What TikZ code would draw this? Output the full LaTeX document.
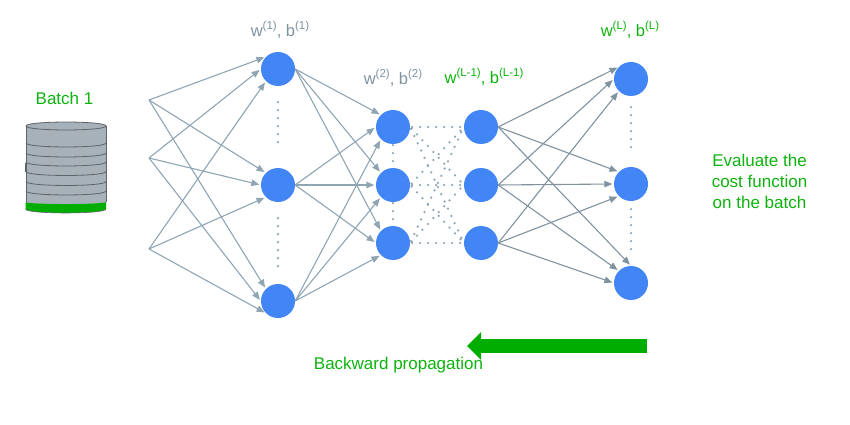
\documentclass[tikz,border=0pt]{standalone}
\usepackage{fontspec}
\setmainfont{Liberation Sans}
\usetikzlibrary{arrows.meta}
\definecolor{nodeblue}{HTML}{4285F4}
\definecolor{edgegray}{HTML}{8FA5B3}
\definecolor{edgedark}{HTML}{7F939F}
\definecolor{labelgray}{HTML}{7F939F}
\definecolor{labelgreen}{HTML}{0DB30D}
\definecolor{arrowgreen}{HTML}{00AD00}
\definecolor{diskgray}{HTML}{A7B1B9}
\definecolor{diskline}{HTML}{5F6468}
\newcommand{\supr}[1]{\raisebox{0.42em}{\fontsize{11.5}{12}\selectfont #1}}
\newcommand{\diskarc}[1]{(26,#1) .. controls (26,#1+5.3) and (106,#1+5.3) .. (106,#1)}
\tikzset{
  neuron/.style={circle,fill=nodeblue,draw=none,minimum size=34pt,inner sep=0pt},
  edge/.style={draw=edgegray,line width=1.1pt,shorten >=1.5pt,-{Triangle[length=8pt,width=6.5pt]}},
  edgeb/.style={edge,draw=edgedark},
  dotedge/.style={draw=edgegray,line width=2.5pt,line cap=round,dash pattern=on 0pt off 8pt,shorten <=2pt},
  vdots/.style={draw=edgegray,line width=2.5pt,line cap=round,dash pattern=on 0pt off 8pt},
  txt/.style={font=\fontsize{17}{20.6}\selectfont,inner sep=0pt,align=center},
  weight/.style={font=\fontsize{16.5}{20}\selectfont,inner sep=0pt,align=center},
  disk/.style={draw=diskline,line width=0.8pt}
}
\begin{document}
\begin{tikzpicture}[x=1pt,y=-1pt]
\useasboundingbox (0,0) rectangle (850,425);
% input points
\coordinate (i1) at (149,100);
\coordinate (i2) at (149,158);
\coordinate (i3) at (149,249);
% neurons
\node[neuron] (a1) at (278,69) {};
\node[neuron] (a2) at (278,185) {};
\node[neuron] (a3) at (278,301) {};
\node[neuron] (b1) at (393,127) {};
\node[neuron] (b2) at (393,185) {};
\node[neuron] (b3) at (393,243) {};
\node[neuron] (c1) at (481,127) {};
\node[neuron] (c2) at (481,185) {};
\node[neuron] (c3) at (481,243) {};
\node[neuron] (d1) at (631,79) {};
\node[neuron] (d2) at (631,184) {};
\node[neuron] (d3) at (631,283) {};
% connectors
\foreach \s/\ang in {1/135,2/180,3/225}{\foreach \t in {1,2,3}{
  \draw[edge] (i\s) -- (a\t.\ang);
  \draw[edge] (a\s.east) -- (b\t.\ang);
  \draw[dotedge] (b\s.east) -- (c\t.west);
}}
\foreach \s/\ang in {1/135,2/180,3/225}{\foreach \t in {1,2}{
  \draw[edgeb] (c\s.east) -- (d\t.\ang);
}}
\draw[edgeb] (c1.east) -- (d3.north);
\draw[edgeb] (c2.east) -- (d3.135);
\draw[edgeb] (c3.east) -- (d3.west);
\draw[vdots,shorten <=16pt,shorten >=18pt] (a1.south) -- (a2.north);
\draw[vdots,shorten <=16pt,shorten >=17pt] (a2.south) -- (a3.north);
\draw[vdots,shorten <=1pt,shorten >=6pt] (b1.south) -- (b2.north);
\draw[vdots,shorten <=1pt,shorten >=6pt] (b2.south) -- (b3.north);
\draw[vdots,shorten <=11pt,shorten >=12pt] (d1.south) -- (d2.north);
\draw[vdots,shorten <=8pt,shorten >=9pt] (d2.south) -- (d3.north);
% stack of batches
\fill[diskgray] (26,126) .. controls (26,120.7) and (106,120.7) .. (106,126) -- (106,205) -- (26,205) -- cycle;
\fill[arrowgreen] (25.5,202) .. controls (25.5,204.7) and (106,204.7) .. (106,202) -- (106,209) .. controls (106,214.3) and (25.5,214.3) .. (25.5,209) -- cycle;
\draw[disk] (26,126) .. controls (26,120.7) and (106,120.7) .. (106,126);
\draw[disk] \diskarc{126};
\draw[disk] (26,126) -- (26,202);
\draw[disk] (106,126) -- (106,202);
\draw[disk] (25.3,163) -- (25.3,172);
\draw[diskline,line width=0.6pt] (25.5,209) .. controls (25.5,214.3) and (106,214.3) .. (106,209);
\foreach \yy in {143,153,162,171.5,181.5,191}{
  \draw[disk] \diskarc{\yy};
}
% backward arrow
\coordinate (arrstart) at (647,346);
\coordinate (arrend) at (467,346);
\draw[draw=arrowgreen,line width=14pt,-{Triangle[length=14pt,width=27pt]}] (arrstart) -- (arrend);
% labels
\node[txt,text=labelgreen] (batch) at (64.5,98.5) {Batch 1};
\node[weight,text=labelgray] (l1) at (280,29.5) {w\supr{(1)}, b\supr{(1)}};
\node[weight,text=labelgray] (l2) at (393,77.5) {w\supr{(2)}, b\supr{(2)}};
\node[weight,text=labelgreen] (l3) at (484,76.5) {w\supr{(L-1)}, b\supr{(L-1)}};
\node[weight,text=labelgreen] (l4) at (630,29.5) {w\supr{(L)}, b\supr{(L)}};
\node[txt,text=labelgreen] (eval) at (759.5,181.5) {Evaluate the\\cost function\\on the batch};
\node[txt,text=labelgreen] (back) at (398.5,365.5) {Backward propagation};
\end{tikzpicture}
\end{document}
